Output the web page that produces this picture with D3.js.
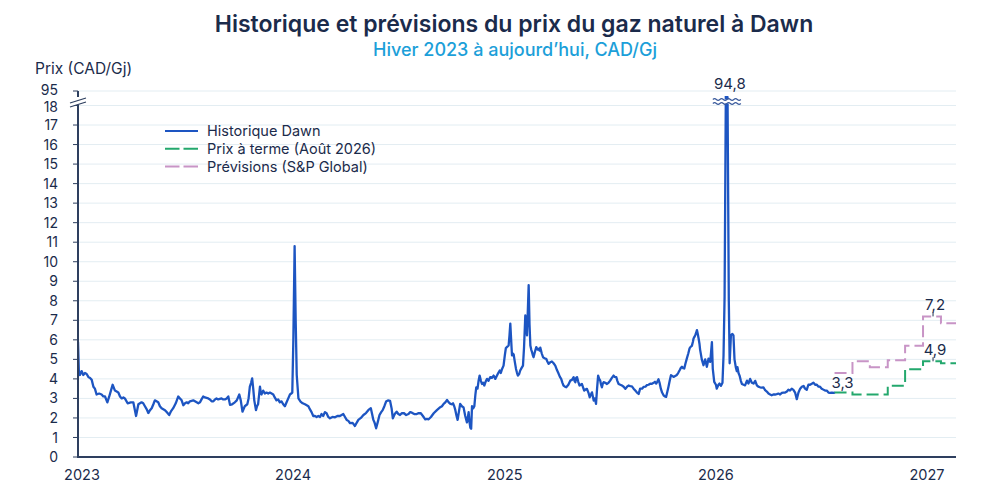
<!DOCTYPE html>
<html><head><meta charset="utf-8">
<script src="https://cdn.jsdelivr.net/npm/d3@7"></script>
<style>
body{margin:0;background:#fff}
text{font-family:Inter,Roboto,"Noto Sans",sans-serif}
</style>
</head><body>
<svg id="chart" width="1000" height="492"></svg>
<script>
// ---------- DATA ----------
// historical Dawn price: time in years since 1 Jan 2023, value CAD/GJ
const histYearsSince2023 = [
0.000,0.004,0.009,0.017,0.025,0.033,0.041,0.049,0.057,0.065,0.073,0.080,0.088,0.100,0.112,0.120,0.128,0.139,0.148,0.156,
0.164,0.175,0.183,0.191,0.199,0.207,0.215,0.222,0.235,0.250,0.262,0.275,0.286,0.301,0.309,0.317,0.325,0.333,0.341,0.349,
0.357,0.364,0.372,0.380,0.388,0.396,0.404,0.412,0.420,0.432,0.441,0.451,0.463,0.475,0.483,0.491,0.499,0.507,0.515,0.522,
0.530,0.546,0.554,0.562,0.570,0.578,0.585,0.593,0.601,0.617,0.625,0.633,0.641,0.649,0.656,0.664,0.680,0.688,0.696,0.704,
0.712,0.720,0.730,0.743,0.752,0.764,0.771,0.779,0.790,0.802,0.808,0.814,0.820,0.825,0.830,0.835,0.843,0.848,0.853,0.862,
0.866,0.869,0.877,0.885,0.893,0.901,0.909,0.917,0.925,0.932,0.940,0.948,0.956,0.964,0.972,0.980,0.988,0.996,1.004,1.010,
1.015,1.020,1.026,1.031,1.036,1.044,1.054,1.064,1.075,1.083,1.091,1.098,1.106,1.114,1.122,1.130,1.138,1.146,1.153,1.161,
1.169,1.177,1.185,1.193,1.205,1.217,1.228,1.240,1.248,1.256,1.264,1.272,1.280,1.288,1.300,1.311,1.319,1.327,1.339,1.351,
1.363,1.375,1.386,1.392,1.398,1.404,1.411,1.419,1.427,1.435,1.442,1.450,1.458,1.467,1.477,1.484,1.490,1.499,1.508,1.516,
1.524,1.533,1.543,1.553,1.564,1.572,1.580,1.591,1.603,1.612,1.622,1.632,1.643,1.651,1.659,1.670,1.683,1.698,1.714,1.722,
1.730,1.738,1.746,1.754,1.762,1.768,1.774,1.780,1.785,1.791,1.796,1.808,1.816,1.824,1.832,1.840,1.844,1.848,1.852,1.856,
1.860,1.864,1.870,1.875,1.880,1.884,1.890,1.895,1.900,1.906,1.911,1.917,1.922,1.928,1.935,1.942,1.950,1.958,1.966,1.974,
1.982,1.988,1.995,2.000,2.006,2.013,2.019,2.024,2.031,2.037,2.041,2.045,2.049,2.053,2.057,2.061,2.066,2.072,2.077,2.081,
2.087,2.092,2.098,2.105,2.110,2.116,2.120,2.124,2.128,2.132,2.136,2.140,2.144,2.148,2.152,2.155,2.162,2.168,2.174,2.179,
2.184,2.187,2.194,2.200,2.208,2.215,2.220,2.226,2.234,2.242,2.250,2.258,2.266,2.274,2.280,2.286,2.292,2.297,2.304,2.310,
2.320,2.329,2.337,2.345,2.349,2.353,2.357,2.361,2.367,2.373,2.378,2.384,2.390,2.395,2.401,2.408,2.415,2.421,2.427,2.432,
2.436,2.440,2.446,2.451,2.456,2.461,2.466,2.471,2.475,2.479,2.483,2.487,2.495,2.503,2.510,2.518,2.526,2.534,2.540,2.547,
2.552,2.558,2.566,2.574,2.582,2.590,2.598,2.605,2.613,2.621,2.629,2.637,2.645,2.653,2.660,2.669,2.676,2.685,2.692,2.700,
2.708,2.716,2.724,2.730,2.736,2.741,2.747,2.752,2.758,2.764,2.771,2.777,2.783,2.788,2.794,2.800,2.806,2.812,2.818,2.826,
2.834,2.840,2.847,2.852,2.858,2.864,2.869,2.875,2.881,2.888,2.894,2.900,2.905,2.910,2.913,2.917,2.921,2.925,2.929,2.933,
2.937,2.941,2.944,2.952,2.960,2.968,2.976,2.984,2.992,3.000,3.004,3.011,3.019,3.023,3.031,3.036,3.043,3.050,3.055,3.060,
3.066,3.074,3.080,3.084,3.090,3.097,3.102,3.107,3.113,3.118,3.121,3.126,3.131,3.137,3.142,3.150,3.157,3.166,3.173,3.181,
3.189,3.197,3.205,3.213,3.220,3.228,3.236,3.244,3.252,3.260,3.268,3.276,3.283,3.291,3.299,3.307,3.315,3.323,3.331,3.339,
3.347,3.355,3.362,3.370,3.378,3.386,3.394,3.402,3.410,3.418,3.426,3.434,3.441,3.449,3.457,3.465,3.473,3.481,3.489,3.497,
3.505,3.512,3.520,3.528,3.536,3.544,3.552,3.560,3.568,3.575,3.583];
const histValues = [
5.9,4.4,4.2,4.4,4.2,4.3,4.25,4.1,4.05,3.95,3.6,3.5,3.2,3.25,3.2,3.1,3.1,2.8,3.1,3.4,
3.7,3.4,3.35,3.3,3.1,3.0,3.05,3.0,2.75,2.8,2.8,2.1,2.7,2.8,2.75,2.6,2.45,2.25,2.4,2.5,
2.7,2.9,2.85,2.8,2.6,2.5,2.45,2.4,2.3,2.15,2.35,2.5,2.75,3.1,3.0,2.9,2.65,2.75,2.8,2.75,
2.85,2.9,2.85,2.8,2.75,2.8,2.95,3.1,3.05,3.0,2.95,2.85,2.85,2.95,3.0,2.95,3.0,2.95,2.95,3.0,
3.1,2.67,2.7,2.8,2.9,3.2,2.9,2.32,2.6,2.7,3.0,3.6,3.8,4.03,3.5,2.9,2.4,2.6,2.7,3.6,
3.3,3.2,3.4,3.25,3.3,3.25,3.3,3.25,3.2,3.05,2.9,2.95,2.8,2.85,2.7,2.6,2.8,3.0,3.2,3.25,
3.3,6.0,10.8,7.0,4.2,3.0,2.84,2.75,2.7,2.65,2.6,2.45,2.3,2.1,2.1,2.05,2.1,2.05,2.2,2.1,
2.3,2.24,2.05,1.98,2.05,2.03,2.1,2.1,2.15,2.2,2.05,1.9,1.85,1.73,1.75,1.59,1.75,1.9,2.0,2.15,
2.25,2.41,2.5,2.2,1.9,1.75,1.47,1.8,2.15,2.3,2.4,2.6,2.84,2.9,2.87,2.5,1.98,2.2,2.32,2.2,
2.15,2.25,2.24,2.15,2.2,2.3,2.27,2.2,2.2,2.25,2.24,2.1,1.93,1.95,1.93,2.05,2.24,2.4,2.55,2.6,
2.72,2.8,2.92,2.8,2.72,2.7,2.75,2.6,2.41,2.1,1.9,2.72,2.6,2.54,2.1,1.77,2.0,2.3,1.8,1.5,
1.45,2.6,2.5,2.6,3.2,3.57,3.5,3.9,4.17,3.9,3.74,3.8,3.66,3.85,4.0,3.9,4.09,4.05,4.17,4.0,
4.17,4.3,4.43,4.3,4.51,4.68,5.2,5.58,5.65,5.71,6.2,6.83,6.0,5.2,5.3,5.25,4.9,4.51,4.3,4.17,
4.25,4.43,4.55,4.68,5.6,7.25,6.8,6.23,7.5,8.8,6.8,5.71,5.5,5.37,5.2,5.11,5.4,5.63,5.5,5.54,
5.45,5.6,5.3,5.11,5.05,5.03,4.9,4.77,4.85,4.89,4.8,4.68,4.45,4.26,4.1,4.0,3.8,3.66,3.6,3.57,
3.7,3.91,3.95,4.09,3.9,3.83,4.05,4.09,3.85,3.66,3.7,3.74,3.55,3.4,3.45,3.49,3.3,3.06,3.2,3.31,
3.1,2.89,3.0,2.72,3.5,4.17,4.0,3.91,3.7,3.57,3.75,3.83,3.8,3.74,3.8,3.91,4.05,4.17,4.1,4.09,
3.9,3.74,3.7,3.66,3.6,3.49,3.6,3.66,3.63,3.62,3.5,3.4,3.3,3.23,3.5,3.5,3.59,3.6,3.68,3.7,
3.76,3.75,3.8,3.85,3.76,3.85,3.98,3.8,3.5,3.3,3.16,3.1,3.08,3.3,3.59,3.9,4.19,4.15,4.1,4.15,
4.2,4.3,4.44,4.55,4.62,4.55,4.53,4.8,5.04,5.3,5.56,5.65,5.69,5.9,6.07,6.15,6.24,6.35,6.5,6.3,
6.07,5.8,5.5,5.0,4.7,5.0,4.62,5.04,4.87,5.88,4.53,3.85,3.7,3.5,3.7,3.76,3.65,3.8,5.2,8.2,
94.8,60,8.0,4.8,6.24,6.3,6.23,5.0,4.6,4.4,4.6,4.3,4.17,3.9,3.74,3.7,3.67,3.91,3.76,4.0,
3.8,3.76,3.9,3.67,3.6,3.57,3.55,3.57,3.42,3.35,3.25,3.2,3.16,3.2,3.2,3.22,3.25,3.2,3.28,3.3,
3.3,3.35,3.45,3.4,3.5,3.44,3.3,2.96,3.3,3.5,3.6,3.64,3.5,3.44,3.7,3.7,3.75,3.81,3.7,3.7,
3.6,3.6,3.5,3.45,3.4,3.4,3.3,3.28,3.3,3.28,3.3];

// monthly steps (start of month)
const stepMonths = ["2026-08","2026-09","2026-10","2026-11","2026-12","2027-01","2027-02"];
const forwardValues  = [3.3, 3.2, 3.2, 3.65, 4.5, 4.9, 4.8];   // Prix à terme (Août 2026)
const forecastValues = [4.3, 4.9, 4.6, 4.95, 5.7, 7.2, 6.85];  // Prévisions (S&P Global)

const yTickValues = [0,1,2,3,4,5,6,7,8,9,10,11,12,13,14,15,16,17,18];
const yBreakTickValue = 95;
const xTickYears = [2023, 2024, 2025, 2026, 2027];
const xDomainEnd = "2027-02-27";

const titleText = "Historique et prévisions du prix du gaz naturel à Dawn";
const subtitleText = "Hiver 2023 à aujourd’hui, CAD/Gj";
const yTitleText = "Prix (CAD/Gj)";
const seriesNames = ["Historique Dawn", "Prix à terme (Août 2026)", "Prévisions (S&P Global)"];
const seriesColors = ["#1d55c2", "#23a86d", "#c894c6"];

// ---------- CHART ----------
const svg = d3.select("#chart");
const navy = "#1b2b4b", axisCol = "#2e3f5f", gridCol = "#e3edf2";
const frac = t => { const yy = Math.floor(t), a = Date.UTC(yy,0,1), b = Date.UTC(yy+1,0,1); return new Date(a + (t-yy)*(b-a)); };
const parseM = d3.utcParse("%Y-%m");
const hist = histYearsSince2023.map((t,i) => ({date: frac(2023 + t), v: histValues[i]}));
const lastDate = d3.utcParse("%Y-%m-%d")(xDomainEnd);

const x = d3.scaleUtc().domain([new Date(Date.UTC(2023,0,1)), lastDate]).range([78, 956]);
const y = d3.scaleLinear().domain([0, 18, 95]).range([457, 105.5, 91]);
const fmt = v => d3.format(".1f")(v).replace(".", ",");

// title
svg.append("text").attr("x", 514).attr("y", 32).attr("text-anchor","middle")
  .attr("font-size", 23).attr("font-weight", 600).attr("fill", navy).text(titleText);
svg.append("text").attr("x", 515).attr("y", 55.5).attr("text-anchor","middle")
  .attr("font-size", 18).attr("font-weight", 500).attr("fill", "#1c9fd9").text(subtitleText);
svg.append("text").attr("x", 35).attr("y", 74)
  .attr("font-size", 15.5).attr("fill", navy).text(yTitleText);

// grid
const gridVals = yTickValues.concat([yBreakTickValue]);
svg.append("g").selectAll("line").data(gridVals).join("line")
  .attr("x1", 78).attr("x2", 956).attr("y1", d => y(d)).attr("y2", d => y(d))
  .attr("stroke", gridCol).attr("stroke-width", 1);

// y tick labels & tick marks
svg.append("g").selectAll("text").data(gridVals).join("text")
  .attr("x", 58).attr("y", d => y(d) + (d === yBreakTickValue ? -1.5 : d === 18 ? 1.5 : 0))
  .attr("dy", "0.36em").attr("text-anchor","end")
  .attr("font-size", 14).attr("fill", navy).text(d => d);
svg.append("g").selectAll("line").data(gridVals).join("line")
  .attr("x1", 73).attr("x2", 78).attr("y1", d => y(d)).attr("y2", d => y(d))
  .attr("stroke", axisCol).attr("stroke-width", 1);

// x tick labels
svg.append("g").selectAll("text").data(xTickYears).join("text")
  .attr("x", d => x(new Date(Date.UTC(d,0,1))) + 4).attr("y", 480).attr("text-anchor","middle")
  .attr("font-size", 14.5).attr("fill", navy).text(d => d);

// clip for series (top of broken axis)
svg.append("clipPath").attr("id","clip").append("rect")
  .attr("x", 78).attr("y", 96).attr("width", 880).attr("height", 362);

// historical line
svg.append("path").datum(hist)
  .attr("clip-path","url(#clip)")
  .attr("d", d3.line().x(d => x(d.date)).y(d => y(d.v)))
  .attr("fill","none").attr("stroke", seriesColors[0]).attr("stroke-width", 2.3)
  .attr("stroke-linejoin","round");

// step series
function stepData(vals){
  const pts = stepMonths.map((m,i) => ({date: parseM(m), v: vals[i]}));
  pts.push({date: lastDate, v: vals[vals.length-1]});
  return pts;
}
const stepLine = d3.line().x(d => x(d.date)).y(d => y(d.v)).curve(d3.curveStepAfter);
svg.append("path").datum(stepData(forecastValues)).attr("d", stepLine)
  .attr("fill","none").attr("stroke", seriesColors[2]).attr("stroke-width", 2).attr("stroke-dasharray","12,5");
svg.append("path").datum(stepData(forwardValues)).attr("d", stepLine)
  .attr("fill","none").attr("stroke", seriesColors[1]).attr("stroke-width", 2).attr("stroke-dasharray","12,5");

// axes lines
svg.append("line").attr("x1",78).attr("x2",956).attr("y1",y(0)).attr("y2",y(0))
  .attr("stroke",axisCol).attr("stroke-width",2);
svg.append("line").attr("x1",78).attr("x2",78).attr("y1",y(0)+1).attr("y2",y(18)-1)
  .attr("stroke",axisCol).attr("stroke-width",2);
svg.append("line").attr("x1",78).attr("x2",78).attr("y1",y(95)).attr("y2",y(95)+6)
  .attr("stroke",axisCol).attr("stroke-width",2);
// axis break mark
const by = y(18);
svg.append("path").attr("d", `M70,${by-2.5} L86,${by-7.5} L86,${by-3.5} L70,${by+1.5} Z`).attr("fill","#fff");
svg.append("path").attr("d", `M70,${by-2.5} L86,${by-7.5} M70,${by+1.5} L86,${by-3.5}`)
  .attr("stroke",axisCol).attr("stroke-width",1.3).attr("fill","none");

// spike break mark
const peakIdx = histValues.indexOf(d3.max(histValues));
const px = x(hist[peakIdx].date) + 1;
const wave = (yy) => { let s = `M${px-14},${yy}`; for (let k=0;k<4;k++){ const x0=px-14+k*7; s += ` Q${x0+1.75},${yy-1.6} ${x0+3.5},${yy} T${x0+7},${yy}`; } return s; };
svg.append("rect").attr("x", px-14).attr("y", by-6).attr("width", 28).attr("height", 4).attr("fill","#fff");
svg.append("path").attr("d", wave(by-6)).attr("stroke","#3a5a9c").attr("stroke-width",1.2).attr("fill","none");
svg.append("path").attr("d", wave(by-2)).attr("stroke","#3a5a9c").attr("stroke-width",1.2).attr("fill","none");
svg.append("text").attr("x", px+3).attr("y", 89).attr("text-anchor","middle")
  .attr("font-size", 15).attr("fill", navy).text(fmt(histValues[peakIdx]));

// end labels
const aug = parseM(stepMonths[0]);
svg.append("text").attr("x", x(aug)+8).attr("y", y(forwardValues[0])-4.5).attr("text-anchor","middle")
  .attr("font-size", 15).attr("fill", navy).text(fmt(forwardValues[0]));
const jan = stepMonths.indexOf("2027-01");
const janMid = x(parseM("2027-01")) + 10;
[[forwardValues[jan]], [forecastValues[jan]]].forEach(([v]) => {
  svg.append("line").attr("x1", janMid).attr("x2", janMid).attr("y1", y(v)-4).attr("y2", y(v))
    .attr("stroke", navy).attr("stroke-width", 1);
  svg.append("text").attr("x", janMid+2).attr("y", y(v)-6).attr("text-anchor","middle")
    .attr("font-size", 15).attr("fill", navy).text(fmt(v));
});

// legend
const lg = svg.append("g");
seriesNames.forEach((n,i) => {
  const ly = 131 + i*17.8;
  lg.append("line").attr("x1",165).attr("x2",198).attr("y1",ly).attr("y2",ly)
    .attr("stroke", seriesColors[i]).attr("stroke-width", 2)
    .attr("stroke-dasharray", i === 0 ? null : "14.5,4");
  lg.append("text").attr("x",207).attr("y",ly).attr("dy","0.36em")
    .attr("font-size",14.5).attr("fill",navy).text(n);
});
</script>
</body></html>
